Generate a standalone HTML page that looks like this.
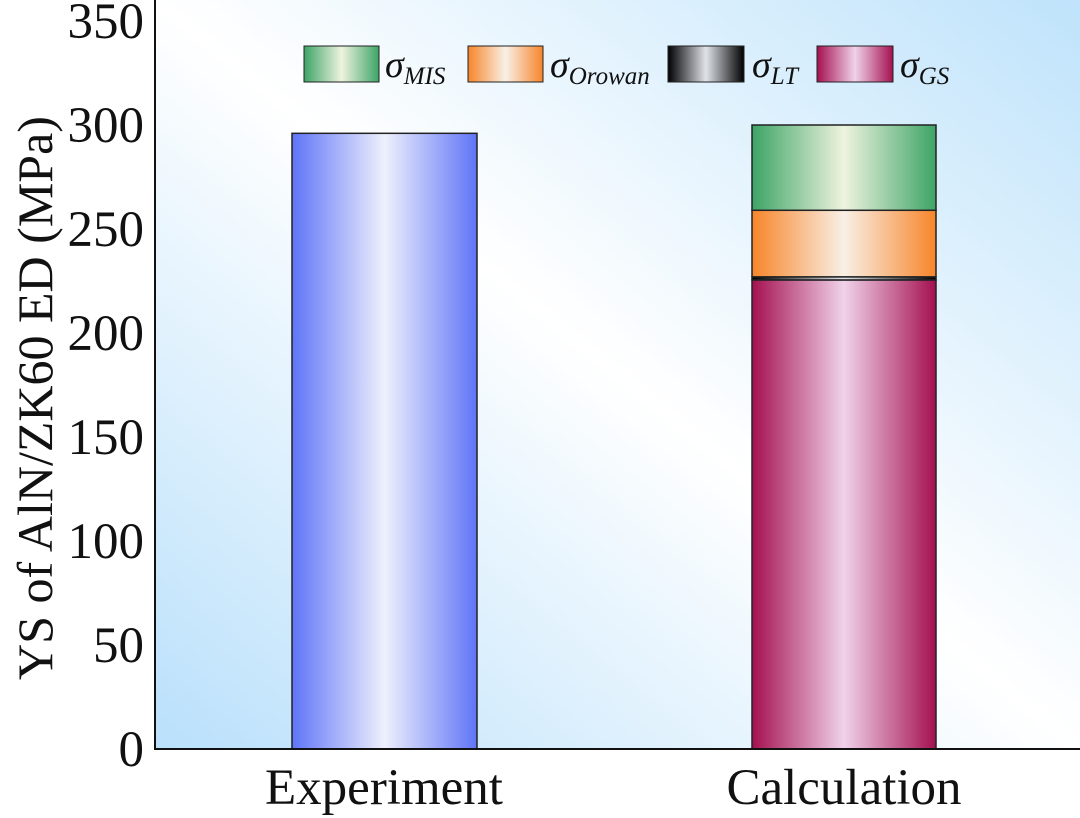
<!DOCTYPE html>
<html><head><meta charset="utf-8"><style>
body{margin:0;background:#fff;}
svg{display:block;font-family:"Liberation Serif",serif;}
</style></head><body>
<svg id="chart" width="1080" height="818">
<defs>
<linearGradient id="bg" x1="0" y1="1" x2="1" y2="0">
<stop offset="0" stop-color="#b9e0fb"/><stop offset="0.5" stop-color="#ffffff"/><stop offset="1" stop-color="#bfe3fb"/>
</linearGradient>
<linearGradient id="gBlue" x1="0" x2="1"><stop offset="0" stop-color="#5f74f7"/><stop offset="0.5" stop-color="#eef0fc"/><stop offset="1" stop-color="#5f74f7"/></linearGradient>
<linearGradient id="gGreen" x1="0" x2="1"><stop offset="0" stop-color="#3da466"/><stop offset="0.5" stop-color="#eef3df"/><stop offset="1" stop-color="#3da466"/></linearGradient>
<linearGradient id="gOrange" x1="0" x2="1"><stop offset="0" stop-color="#f7852a"/><stop offset="0.5" stop-color="#f8f0e6"/><stop offset="1" stop-color="#f7852a"/></linearGradient>
<linearGradient id="gBlack" x1="0" x2="1"><stop offset="0" stop-color="#000"/><stop offset="0.5" stop-color="#e0e4ea"/><stop offset="1" stop-color="#000"/></linearGradient>
<linearGradient id="gMag" x1="0" x2="1"><stop offset="0" stop-color="#a4104f"/><stop offset="0.5" stop-color="#f0d2ea"/><stop offset="1" stop-color="#a4104f"/></linearGradient>
</defs>
<rect x="155" y="0" width="925" height="749" fill="url(#bg)"/>
<g id="bars"></g>
<line x1="155" y1="0" x2="155" y2="749" stroke="#111" stroke-width="2"/>
<line x1="154" y1="749" x2="1080" y2="749" stroke="#111" stroke-width="2"/>
<g id="yticks"></g>
<text transform="translate(52,398) rotate(-90)" text-anchor="middle" font-size="50" fill="#111">YS of AlN/ZK60 ED (MPa)</text>
<text x="384" y="804" text-anchor="middle" font-size="51" fill="#111">Experiment</text>
<text x="844" y="804" text-anchor="middle" font-size="51" fill="#111">Calculation</text>
<g font-style="italic" fill="#111">
<g><rect x="304" y="46" width="75" height="36" fill="url(#gGreen)" stroke="#222"/><text x="385" y="77" font-size="38">σ<tspan font-size="25" dy="7">MIS</tspan></text></g>
<g><rect x="468" y="46" width="75" height="36" fill="url(#gOrange)" stroke="#222"/><text x="550" y="77" font-size="38">σ<tspan font-size="25" dy="7">Orowan</tspan></text></g>
<g><rect x="668" y="46" width="76" height="36" fill="url(#gBlack)" stroke="#222"/><text x="752" y="77" font-size="38">σ<tspan font-size="25" dy="7">LT</tspan></text></g>
<g><rect x="817" y="46" width="76" height="36" fill="url(#gMag)" stroke="#222"/><text x="900" y="77" font-size="38">σ<tspan font-size="25" dy="7">GS</tspan></text></g>
</g>
</svg>
<script>
const yTicks=[0,50,100,150,200,250,300,350];
const experimentValue=[296];
const stackNames=["gs","lt","orowan","mis"];
const stackValues=[225.5,1.5,32,41];
const stackFills=["url(#gMag)","url(#gBlack)","url(#gOrange)","url(#gGreen)"];
const NS="http://www.w3.org/2000/svg";
function y(v){return 749-v*2.08;}
const bars=document.getElementById('bars'),yt=document.getElementById('yticks');
yTicks.forEach(t=>{
 const e=document.createElementNS(NS,'text');
 e.setAttribute('x',144);e.setAttribute('y',y(t)+17);e.setAttribute('text-anchor','end');e.setAttribute('font-size','51');e.setAttribute('fill','#111');
 e.textContent=t;
 
 
 yt.appendChild(e);
});
function rect(x,w,v0,v1,fill){
 const r=document.createElementNS(NS,'rect');
 r.setAttribute('x',x);r.setAttribute('width',w);r.setAttribute('y',y(v1));r.setAttribute('height',y(v0)-y(v1));
 r.setAttribute('fill',fill);r.setAttribute('stroke','#222');r.setAttribute('stroke-width','1.5');
 bars.appendChild(r);return r;
}
const eb=rect(292,185,0,experimentValue[0],'url(#gBlue)');


let acc=0;
stackValues.forEach((v,i)=>{
 const r=rect(752,184,acc,acc+v,stackFills[i]);
 
 
 acc+=v;
});
</script>
</body></html>
